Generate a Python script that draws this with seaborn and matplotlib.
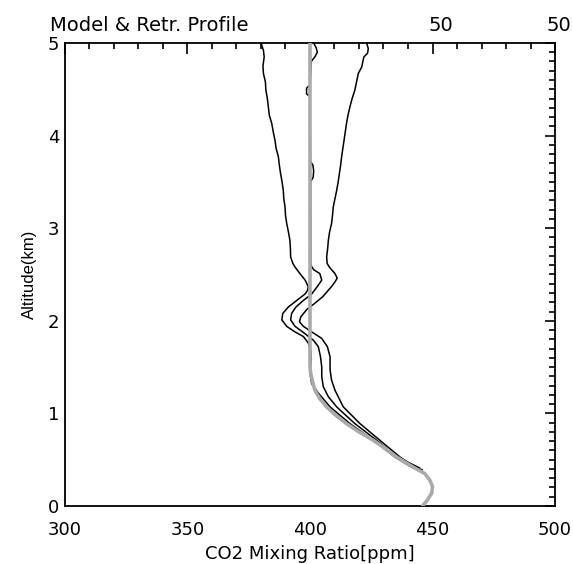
import matplotlib
matplotlib.use("Agg")
import matplotlib.pyplot as plt
from matplotlib.ticker import MultipleLocator
import pandas as pd
import seaborn as sns

# model profile (gray)
model_alt = [5.00, 1.50, 1.43, 1.35, 1.25, 1.16, 1.07, 0.98, 0.89, 0.80, 0.71,
             0.62, 0.53, 0.42, 0.35, 0.28, 0.21, 0.14, 0.06, 0.00]
model_ppm = [400.0, 400.0, 400.3, 401.0, 402.0, 404.0, 406.8, 410.5, 414.9, 420.0, 425.8,
             430.8, 435.3, 442.1, 446.9, 448.9, 450.0, 449.7, 447.8, 445.9]

# retrieved profile
retr_alt = [5.00, 4.95, 4.90, 4.85, 4.80, 4.55, 4.51, 4.45, 4.42, 3.72, 3.68, 3.62,
            3.55, 3.50, 2.60, 2.55, 2.51, 2.44, 2.37, 2.29, 2.22, 2.15, 2.08, 2.01,
            1.94, 1.86, 1.79, 1.72, 1.61, 1.50, 1.40, 1.29, 1.18, 1.07, 0.89, 0.71,
            0.53, 0.41]
retr_ppm = [401.5, 402.5, 403.0, 402.0, 400.5, 400.0, 398.6, 398.6, 400.0, 400.2, 401.2, 401.5,
            401.3, 400.2, 400.3, 401.6, 404.0, 404.8, 403.0, 400.7, 397.3, 394.3, 392.5, 392.1,
            393.9, 398.0, 401.4, 403.4, 404.3, 404.8, 404.8, 405.4, 407.5, 410.9, 418.3, 427.2,
            435.6, 444.8]

# lower error bound
low_alt = [5.00, 4.92, 4.85, 4.75, 4.67, 4.58, 4.49, 4.40, 4.31, 4.22, 4.13, 4.04,
           3.95, 3.86, 3.77, 3.68, 3.59, 3.50, 3.41, 3.32, 3.23, 3.14, 3.05, 2.96,
           2.87, 2.78, 2.69, 2.62, 2.58, 2.51, 2.44, 2.37, 2.33, 2.29, 2.22, 2.15,
           2.08, 2.01, 1.94, 1.88, 1.83, 1.76, 1.68, 1.58, 1.43, 1.32, 1.22, 1.07,
           0.89, 0.71, 0.53, 0.42, 0.39]
low_ppm = [380.0, 381.0, 381.3, 380.8, 381.0, 381.8, 382.0, 382.6, 383.0, 383.4, 384.4, 385.0,
           385.7, 386.2, 387.1, 387.5, 388.0, 388.6, 389.1, 389.3, 389.8, 390.0, 390.5, 391.2,
           391.8, 392.0, 392.1, 393.0, 393.9, 395.9, 398.0, 399.3, 399.0, 398.0, 394.6, 391.2,
           388.9, 388.5, 390.5, 393.9, 397.3, 399.3, 400.3, 400.4, 400.0, 400.7, 403.4, 408.2,
           416.3, 425.8, 434.6, 441.4, 444.8]

# upper error bound
up_alt = [5.00, 4.94, 4.89, 4.85, 4.74, 4.67, 4.58, 4.49, 4.40, 4.31, 4.22, 4.13,
          4.04, 3.95, 3.86, 3.77, 3.68, 3.59, 3.50, 3.41, 3.32, 3.23, 3.14, 3.05,
          2.96, 2.87, 2.78, 2.69, 2.62, 2.58, 2.51, 2.46, 2.42, 2.37, 2.26, 2.19,
          2.12, 2.04, 1.99, 1.94, 1.88, 1.81, 1.72, 1.61, 1.47, 1.36, 1.25, 1.07,
          0.89, 0.71, 0.53, 0.42, 0.39]
up_ppm = [423.1, 423.8, 423.5, 422.0, 421.1, 419.7, 419.0, 418.3, 417.2, 416.3, 415.5, 414.9,
          414.4, 413.9, 413.4, 412.9, 412.5, 412.0, 411.5, 410.9, 410.2, 409.5, 409.2, 408.8,
          408.0, 407.5, 407.2, 406.8, 407.0, 407.9, 410.2, 411.1, 410.2, 408.8, 405.2, 402.0,
          398.6, 396.2, 395.7, 397.3, 400.7, 404.8, 407.1, 408.2, 408.2, 408.8, 410.2, 413.6,
          420.4, 428.5, 436.7, 442.8, 445.9]

x_ticks = [300, 350, 400, 450, 500]
y_ticks = [0, 1, 2, 3, 4, 5]

sns.set_style("white")
plt.rcParams["font.family"] = ["DejaVu Sans"]
plt.rcParams["text.color"] = "black"
plt.rcParams["axes.labelcolor"] = "black"
plt.rcParams["xtick.color"] = "black"
plt.rcParams["ytick.color"] = "black"

fig = plt.figure(figsize=(5.73, 5.64), dpi=100)
ax = fig.add_axes([0.1134, 0.1028, 0.8552, 0.821])

for alt, ppm in [(low_alt, low_ppm), (up_alt, up_ppm), (retr_alt, retr_ppm)]:
    df = pd.DataFrame({"alt": alt, "ppm": ppm})
    sns.lineplot(data=df, x="ppm", y="alt", sort=False, estimator=None,
                 color="black", lw=1.1, ax=ax, zorder=2)

df_model = pd.DataFrame({"alt": model_alt, "ppm": model_ppm})
sns.lineplot(data=df_model, x="ppm", y="alt", sort=False, estimator=None,
             color="#aaaaaa", lw=2.6, ax=ax, zorder=3)

ax.set_xlim(300, 500)
ax.set_ylim(0, 5)
ax.set_xticks(x_ticks)
ax.set_yticks(y_ticks)
ax.xaxis.set_minor_locator(MultipleLocator(10))
ax.yaxis.set_minor_locator(MultipleLocator(0.1))
ax.tick_params(which="both", direction="in", top=True, right=True, width=1.2, color="black")
ax.tick_params(axis="x", which="major", length=8, pad=11, labelsize=13)
ax.tick_params(axis="x", which="minor", length=4)
ax.tick_params(axis="y", which="major", length=7, pad=4, labelsize=13)
ax.tick_params(axis="y", which="minor", length=4)
for s in ax.spines.values():
    s.set_color("black")
    s.set_linewidth(1.3)

ax.set_xlabel("CO2 Mixing Ratio[ppm]", fontsize=13, labelpad=4)
ax.set_ylabel("Altitude(km)", fontsize=12, family=["Liberation Sans"], labelpad=8)

fig.text(0.087, 0.954, "Model & Retr. Profile", fontsize=14, va="center", ha="left")
fig.text(0.77, 0.954, "50", fontsize=14, va="center", ha="center")
fig.text(0.976, 0.954, "50", fontsize=14, va="center", ha="center")

fig.savefig("out.png", dpi=100, facecolor="white")
